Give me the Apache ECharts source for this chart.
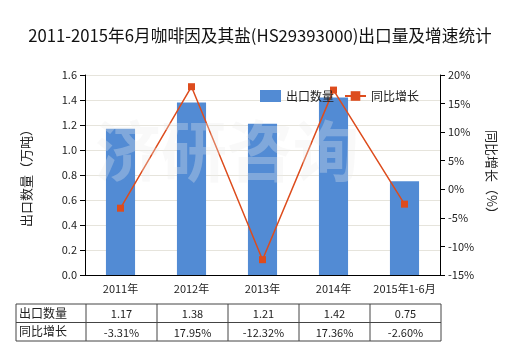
<!DOCTYPE html>
<html><head><meta charset="utf-8">
<script src="https://cdn.jsdelivr.net/npm/echarts@6/dist/echarts.min.js"></script>
<style>html,body{margin:0;padding:0;background:#fff}#c{width:520px;height:350px}</style>
</head><body><div id="c"></div>
<script>
var categories = ['2011年','2012年','2013年','2014年','2015年1-6月'];
var exportQty = [1.17, 1.38, 1.21, 1.42, 0.75];
var growth = [-3.31, 17.95, -12.32, 17.36, -2.60];
var leftTicks = {min:0, max:1.6, interval:0.2};
var rightTicks = {min:-15, max:20, interval:5};
var rowNames = ['出口数量','同比增长'];
var seriesNames = ['出口数量','同比增长'];

var FONT = '"Noto Sans CJK SC","Microsoft YaHei",sans-serif';
var G = {left:85, right:80, top:75, bottom:75};
var W = 520, H = 350;

function buildTable(){
  var els = [];
  var plotW = W - G.left - G.right;
  var cw = plotW / categories.length;
  var x0 = 16, x1 = G.left + 1;
  var yTop = 304, rh = 18.5;
  var stroke = '#444';
  var xEnd = x1 + cw*categories.length;
  for (var r=0;r<=2;r++){
    els.push({type:'line', shape:{x1:x0,y1:yTop+r*rh,x2:xEnd,y2:yTop+r*rh}, style:{stroke:stroke,lineWidth:1}, silent:true});
  }
  var xs=[x0];
  for (var i=0;i<=categories.length;i++) xs.push(x1+i*cw);
  xs.forEach(function(x){
    els.push({type:'line', shape:{x1:x,y1:yTop,x2:x,y2:yTop+2*rh}, style:{stroke:stroke,lineWidth:1}, silent:true});
  });
  var rows = [exportQty.map(function(v){return v.toFixed(2);}), growth.map(function(v){return v.toFixed(2)+'%';})];
  for (var r=0;r<2;r++){
    els.push({type:'text', x:x0+3, y:yTop+r*rh+rh/2, style:{text:rowNames[r], font:'12px '+FONT, fill:'#222', textVerticalAlign:'middle', verticalAlign:'middle'}});
    for (var i=0;i<categories.length;i++){
      els.push({type:'text', x:x1+i*cw+cw/2, y:yTop+r*rh+rh/2+1, style:{text:rows[r][i], font:'11px '+FONT, fill:'#222', textAlign:'center', align:'center', textVerticalAlign:'middle', verticalAlign:'middle'}});
    }
  }
  els.push({type:'text', left:95, top:118, z:100, style:{text:'济研咨询', font:'bold 66px '+FONT, fill:'rgba(235,235,235,0.3)'}, silent:true});
  return els;
}

var chart = echarts.init(document.getElementById('c'), null, {renderer:'canvas'});
chart.setOption({
  animation:false,
  backgroundColor:'#fff',
  title:{text:'2011-2015年6月咖啡因及其盐(HS29393000)出口量及增速统计', left:'center', top:22,
    textStyle:{fontSize:16.7, fontWeight:'normal', color:'#111', fontFamily:FONT}},
  legend:{data:[{name:seriesNames[0], icon:'rect'}, {name:seriesNames[1], itemStyle:{borderWidth:0}}], top:85, left:255, itemWidth:21, itemHeight:12, itemGap:10,
    textStyle:{fontSize:12, color:'#222', fontFamily:FONT}},
  grid:{left:G.left, right:G.right, top:G.top, bottom:G.bottom},
  xAxis:{type:'category', data:categories,
    axisLine:{lineStyle:{color:'#000'}}, axisTick:{alignWithLabel:true, lineStyle:{color:'#000'}},
    axisLabel:{fontSize:11, color:'#222', fontFamily:FONT, interval:0, margin:8}},
  yAxis:[
    {type:'value', min:leftTicks.min, max:leftTicks.max, interval:leftTicks.interval,
     name:'出口数量（万吨）', nameLocation:'middle', nameGap:52, nameRotate:90,
     nameTextStyle:{fontSize:13, color:'#222', fontFamily:FONT},
     axisLine:{show:true, lineStyle:{color:'#000'}}, axisTick:{show:true, lineStyle:{color:'#000'}},
     axisLabel:{fontSize:11, color:'#222', fontFamily:FONT, formatter:function(v){return v.toFixed(1);}},
     splitLine:{lineStyle:{color:'#e6e4dc'}}},
    {type:'value', min:rightTicks.min, max:rightTicks.max, interval:rightTicks.interval,
     name:'同比增长（%）', nameLocation:'middle', nameGap:40, nameRotate:-90,
     nameTextStyle:{fontSize:13, color:'#222', fontFamily:FONT},
     axisLine:{show:true, lineStyle:{color:'#000'}}, axisTick:{show:true, lineStyle:{color:'#000'}},
     axisLabel:{fontSize:11, color:'#222', fontFamily:FONT, formatter:'{value}%'},
     splitLine:{show:false}}
  ],
  series:[
    {name:seriesNames[0], type:'bar', data:exportQty, barWidth:'41%', itemStyle:{color:'#528bd4'}, yAxisIndex:0},
    {name:seriesNames[1], type:'line', data:growth, yAxisIndex:1, symbol:'rect', symbolSize:7,
     lineStyle:{color:'#dd4c1d', width:1.5}, itemStyle:{color:'#dd4c1d'}}
  ],
  graphic:buildTable()
});
</script></body></html>
